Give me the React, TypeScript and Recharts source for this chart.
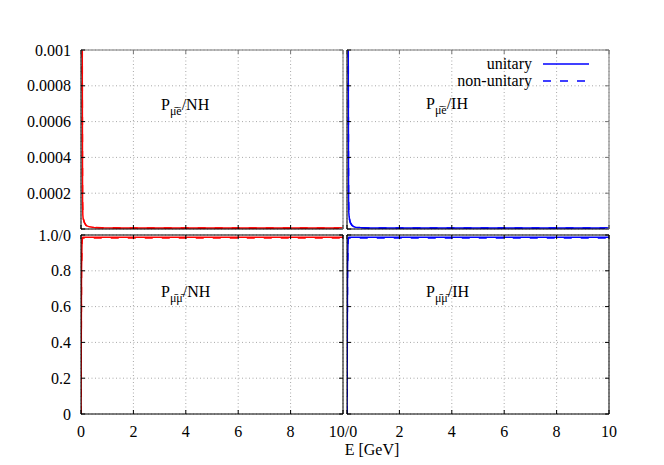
import React from "react";
import { CartesianGrid, Line, LineChart, XAxis, YAxis } from "recharts";

// energies in GeV, shared by every curve
const energies = [0, 0.02, 0.04, 0.05, 0.06, 0.07, 0.08, 0.1, 0.13, 0.19, 0.25, 0.32, 0.5, 0.8, 1.5, 3, 5, 7, 10];

const pmueNH = [0.02, 0.006, 0.002, 0.0008, 0.00015, 0.00008, 0.00006, 0.00005, 0.000035, 0.00002, 0.000016, 0.000012, 0.000009, 0.000007, 0.000006, 0.0000055, 0.0000055, 0.0000055, 0.0000055];
const pmueNHnu = [0.02, 0.006, 0.0021, 0.00082, 0.00016, 0.000085, 0.000062, 0.000051, 0.000036, 0.000021, 0.000016, 0.000012, 0.000009, 0.000007, 0.000006, 0.0000056, 0.0000056, 0.0000056, 0.0000056];
const pmueIH = [0.02, 0.006, 0.002, 0.0008, 0.00016, 0.00009, 0.00007, 0.00005, 0.000034, 0.00002, 0.000014, 0.00001, 0.000008, 0.000006, 0.000005, 0.000005, 0.000005, 0.000005, 0.000005];
const pmueIHnu = [0.02, 0.006, 0.0021, 0.00082, 0.00017, 0.000092, 0.000072, 0.000051, 0.000035, 0.000021, 0.000014, 0.00001, 0.000008, 0.000006, 0.000005, 0.000005, 0.000005, 0.000005, 0.000005];

const pmumuNH = [0, 0.8, 0.97, 0.982, 0.986, 0.988, 0.988, 0.988, 0.988, 0.988, 0.988, 0.988, 0.988, 0.988, 0.988, 0.988, 0.988, 0.988, 0.988];
const pmumuNHnu = [0, 0.78, 0.96, 0.975, 0.98, 0.983, 0.983, 0.983, 0.983, 0.983, 0.983, 0.983, 0.983, 0.983, 0.983, 0.983, 0.983, 0.983, 0.983];
const pmumuIH = [0, 0.8, 0.97, 0.982, 0.986, 0.988, 0.988, 0.988, 0.988, 0.988, 0.988, 0.988, 0.988, 0.988, 0.988, 0.988, 0.988, 0.988, 0.988];
const pmumuIHnu = [0, 0.78, 0.96, 0.975, 0.98, 0.983, 0.983, 0.983, 0.983, 0.983, 0.983, 0.983, 0.983, 0.983, 0.983, 0.983, 0.983, 0.983, 0.983];

const xTicks = [0, 2, 4, 6, 8, 10];
const mueTicks = [0, 0.0002, 0.0004, 0.0006, 0.0008, 0.001];
const mumuTicks = [0, 0.2, 0.4, 0.6, 0.8, 1];

const RED = "#ff0000";
const BLUE = "#0000ff";
const FONT = "'Liberation Serif', 'Times New Roman', serif";

const ML = 90;
const MT = 10;
const MR = 20;
const MB = 40;

type PanelProps = {
  left: number;
  top: number;
  w: number;
  h: number;
  unitary: number[];
  nonUnitary: number[];
  color: string;
  yTicks: number[];
  yMax: number;
  yFmt?: (v: number) => string;
  xFmt?: (v: number) => string;
  topStroke: string;
};

const blank = () => "";

// serif tick labels, drawn by hand so the font is certain
function serifTick(fmt: (v: number) => string, dy: string) {
  return (props: any) => (
    <text
      x={props.x}
      y={props.y}
      dy={dy}
      textAnchor={props.textAnchor}
      fontFamily={FONT}
      fontSize={16}
      fill="#000"
    >
      {fmt(props.payload.value)}
    </text>
  );
}

function Panel(p: PanelProps) {
  const rows = energies.map((e, i) => ({ e, u: p.unitary[i], n: p.nonUnitary[i] }));
  return (
    <div style={{ position: "absolute", left: p.left - ML, top: p.top - MT }}>
      <LineChart
        width={p.w + ML + MR}
        height={p.h + MT + MB}
        data={rows}
        margin={{ top: MT, right: MR, bottom: p.xFmt ? 0 : MB, left: p.yFmt ? 0 : ML }}
      >
        <CartesianGrid stroke="#a8a8a8" strokeDasharray="1 2.5" />
        <XAxis
          xAxisId={0}
          type="number"
          dataKey="e"
          domain={[0, 10]}
          allowDataOverflow
          ticks={xTicks}
          interval={0}
          mirror
          tickSize={4}
          tickFormatter={blank}
          stroke="#000"
        />
        <XAxis
          xAxisId="top"
          type="number"
          dataKey="e"
          orientation="top"
          domain={[0, 10]}
          allowDataOverflow
          ticks={xTicks}
          interval={0}
          mirror
          tickSize={4}
          tickFormatter={blank}
          stroke={p.topStroke}
        />
        {p.xFmt && (
          <XAxis
            xAxisId="lab"
            type="number"
            dataKey="e"
            domain={[0, 10]}
            allowDataOverflow
            ticks={xTicks}
            interval={0}
            height={MB}
            axisLine={false}
            tickLine={false}
            tickSize={4}
            tickMargin={8}
            tick={serifTick(p.xFmt, "0.71em")}
          />
        )}
        <YAxis
          yAxisId={0}
          type="number"
          domain={[0, p.yMax]}
          allowDataOverflow
          ticks={p.yTicks}
          interval={0}
          mirror
          tickSize={4}
          tickFormatter={blank}
          stroke="#000"
        />
        <YAxis
          yAxisId="right"
          type="number"
          orientation="right"
          domain={[0, p.yMax]}
          allowDataOverflow
          ticks={p.yTicks}
          interval={0}
          mirror
          tickSize={4}
          tickFormatter={blank}
          stroke={p.topStroke}
        />
        {p.yFmt && (
          <YAxis
            yAxisId="lab"
            type="number"
            domain={[0, p.yMax]}
            allowDataOverflow
            ticks={p.yTicks}
            interval={0}
            width={ML}
            axisLine={false}
            tickLine={false}
            tickSize={4}
            tickMargin={6}
            tick={serifTick(p.yFmt, "0.355em")}
          />
        )}
        <Line
          xAxisId={0}
          yAxisId={0}
          type="linear"
          dataKey="u"
          stroke={p.color}
          strokeWidth={1.5}
          dot={false}
          isAnimationActive={false}
        />
        <Line
          xAxisId={0}
          yAxisId={0}
          type="linear"
          dataKey="n"
          stroke={p.color}
          strokeWidth={1.5}
          strokeDasharray="8 9"
          dot={false}
          isAnimationActive={false}
        />
      </LineChart>
    </div>
  );
}

function PLabel({ x, y, sub, tail }: { x: number; y: number; sub: string; tail: string }) {
  return (
    <text x={x} y={y} fontSize={16} fontFamily={FONT} fill="#000">
      P
      <tspan dy={5} fontSize={12}>
        {sub}
      </tspan>
      <tspan dy={-5}>{tail}</tspan>
    </text>
  );
}

export default function App() {
  return (
    <div style={{ position: "absolute", left: 0, top: 0, width: 664, height: 465, background: "#fff" }}>
      <Panel
        left={81}
        top={50}
        w={262}
        h={179}
        unitary={pmueNH}
        nonUnitary={pmueNHnu}
        color={RED}
        yTicks={mueTicks}
        yMax={0.001}
        yFmt={(v) => (v === 0 ? "" : String(v))}
        topStroke="#777"
      />
      <Panel
        left={347}
        top={50}
        w={262}
        h={179}
        unitary={pmueIH}
        nonUnitary={pmueIHnu}
        color={BLUE}
        yTicks={mueTicks}
        yMax={0.001}
        topStroke="#777"
      />
      <Panel
        left={81}
        top={235}
        w={262}
        h={179}
        unitary={pmumuNH}
        nonUnitary={pmumuNHnu}
        color={RED}
        yTicks={mumuTicks}
        yMax={1}
        yFmt={(v) => (v === 1 ? "1.0/0" : v === 0 ? "0" : v.toFixed(1))}
        xFmt={(v) => (v === 10 ? "10/0" : String(v))}
        topStroke="#000"
      />
      <Panel
        left={347}
        top={235}
        w={262}
        h={179}
        unitary={pmumuIH}
        nonUnitary={pmumuIHnu}
        color={BLUE}
        yTicks={mumuTicks}
        yMax={1}
        xFmt={(v) => (v === 0 ? "" : String(v))}
        topStroke="#000"
      />
      <svg
        width={664}
        height={465}
        style={{ position: "absolute", left: 0, top: 0, pointerEvents: "none" }}
      >
        <PLabel x={161} y={110} sub={"\u03bc\u0304\u0113"} tail="/NH" />
        <PLabel x={426} y={109} sub={"\u03bc\u0304\u0113"} tail="/IH" />
        <PLabel x={161} y={297} sub={"\u03bc\u0304\u03bc\u0304"} tail="/NH" />
        <PLabel x={426} y={297} sub={"\u03bc\u0304\u03bc\u0304"} tail="/IH" />

        <text x={532} y={69} textAnchor="end" fontSize={16} fontFamily={FONT} fill="#000">
          unitary
        </text>
        <line x1={543} x2={589} y1={64} y2={64} stroke={BLUE} strokeWidth={1.5} />
        <text x={532} y={86} textAnchor="end" fontSize={16} fontFamily={FONT} fill="#000">
          non-unitary
        </text>
        <line x1={543} x2={589} y1={81} y2={81} stroke={BLUE} strokeWidth={1.5} strokeDasharray="8 9" />

        <text x={372} y={455} textAnchor="middle" fontSize={16} fontFamily={FONT} fill="#000">
          E [GeV]
        </text>
      </svg>
    </div>
  );
}
